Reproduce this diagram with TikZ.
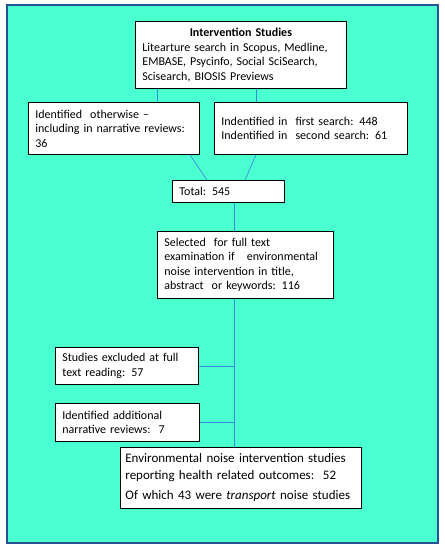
\documentclass[tikz,border=0pt]{standalone}
\usepackage{fontspec}
\setmainfont{Carlito}
\usetikzlibrary{positioning, calc}
\definecolor{aquabg}{RGB}{74,255,208}
\definecolor{framblue}{RGB}{40,82,150}
\definecolor{linkblue}{RGB}{52,140,222}
\hyphenpenalty=10000

\begin{document}
\begin{tikzpicture}[
      x=1pt, y=-1pt,
      every node/.style={font=\fontsize{12}{14.5}\selectfont},
      recbox/.style={draw, fill=white, line width=0.8pt, anchor=north west, align=left, inner xsep=7pt, inner ysep=2pt},
      link/.style={draw=linkblue, line width=0.7pt},
    ]
    \useasboundingbox (0,0) rectangle (445,550);
    \draw[framblue, line width=1.6pt, fill=aquabg] (7,5) rectangle (438,543);

    \node[recbox, minimum width=211pt, minimum height=67pt, text width=197pt] (search) at (135,21)
      {\makebox[197pt]{\textbf{Intervention Studies}}\\Litearture search in Scopus, Medline,\\EMBASE, Psycinfo, Social SciSearch,\\Scisearch, BIOSIS Previews};
    \node[recbox, minimum width=171pt, minimum height=52pt, text width=157pt] (other) at (28,102)
      {Identified\ \ otherwise --\\including in narrative reviews:\\36};
    \node[recbox, minimum width=193pt, minimum height=52pt, text width=179pt, inner ysep=8pt] (ident) at (214,102)
      {Indentified in\ \ first search: 448\\Indentified in\ \ second search: 61};
    \node[recbox, minimum width=112pt, minimum height=22pt, text width=98pt] (total) at (172,180)
      {Total: 545};
    \node[recbox, minimum width=176pt, minimum height=67pt, text width=162pt] (select) at (157,231)
      {Selected\ \ for full text\\examination if\ \ \ environmental\\noise intervention in title,\\abstract\ \ or keywords: 116};
    \node[recbox, minimum width=143pt, minimum height=37pt, text width=129pt] (excl) at (55,347)
      {Studies excluded at full\\text reading: 57};
    \node[recbox, minimum width=144pt, minimum height=38pt, text width=130pt] (addit) at (55,403)
      {Identified additional\\narrative reviews:\ \ 7};
    \node[recbox, minimum width=241pt, minimum height=61pt, text width=231pt, inner xsep=5pt, font=\fontsize{13}{16.5}\selectfont] (final) at (120,447)
      {Environmental noise intervention studies\\reporting health related outcomes:\ \ 52\\[4pt]Of which 43 were \textit{transport} noise studies};

    % connectors
    \coordinate (spine) at ([xshift=77pt]select.south west);
    \draw[link] ([xshift=22pt]search.south west) -- ([xshift=22pt]search.south west |- other.north);
    \draw[link] ([xshift=121pt]search.south west) -- ([xshift=121pt]search.south west |- ident.north);
    \draw[link] ([xshift=162pt]other.south west) -- ([xshift=35pt]total.north west);
    \draw[link] ([xshift=42pt]ident.south west) -- ([xshift=73pt]total.north west);
    \draw[link] ([xshift=62pt]total.south west) -- ([xshift=62pt]total.south west |- select.north);
    \draw[link] (spine) -- (spine |- final.north);
    \draw[link] (excl.east) -- (excl.east -| spine);
    \draw[link] (addit.east) -- (addit.east -| spine);
  \end{tikzpicture}
\end{document}
